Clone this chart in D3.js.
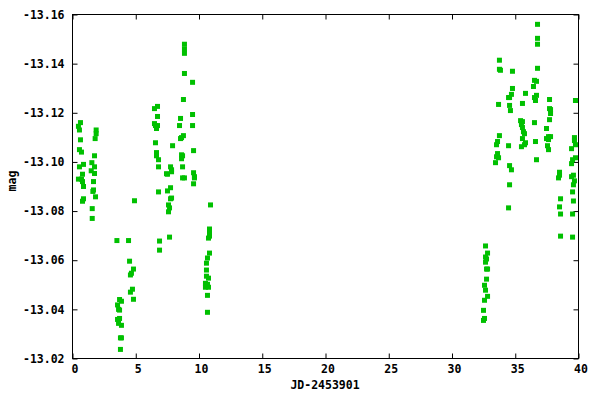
<!DOCTYPE html>
<html><head><meta charset="utf-8">
<script src="https://cdn.jsdelivr.net/npm/d3@7"></script>
<style>
html,body{margin:0;padding:0;background:#fff;}
text{font-family:"DejaVu Sans Mono","Liberation Mono",monospace;font-weight:bold;font-size:11.5px;fill:#000;}
</style></head>
<body>
<svg id="c" width="600" height="400"></svg>
<script>
// Season 1 (JD-2453901 ~0-11)
const jd1 = [0.47,0.63,0.55,0.63,0.55,0.71,0.87,0.55,0.79,0.47,0.71,0.79,0.87,0.87,0.79,
1.87,1.87,1.79,1.74,1.53,1.74,1.48,1.74,1.66,1.61,1.66,1.82,1.56,1.56,
3.51,3.56,3.72,3.64,3.87,3.72,3.56,3.72,3.64,3.87,3.79,3.87,3.79,
4.43,4.51,4.82,4.66,4.58,4.74,4.58,4.82,4.90,
6.48,6.72,6.72,6.48,6.56,6.72,6.64,6.56,6.64,6.64,6.80,6.80,6.80,6.88,6.88,
7.43,7.51,7.75,7.83,7.83,7.51,7.75,7.75,7.83,7.59,7.67,7.59,7.67,7.91,
8.54,8.46,8.54,8.77,8.62,8.62,8.70,8.62,8.70,8.70,8.85,8.85,8.85,8.85,8.85,8.77,
9.49,9.49,9.49,9.57,9.57,9.64,9.57,9.64,
10.91,10.83,10.83,10.83,10.75,10.83,10.67,10.59,10.59,10.59,10.75,10.51,10.67,10.75,10.51,10.67,10.67];
const mag1 = [-13.1145,-13.116,-13.113,-13.109,-13.105,-13.104,-13.099,-13.098,-13.095,-13.093,-13.093,-13.092,-13.090,-13.085,-13.084,
-13.113,-13.1115,-13.1095,-13.1025,-13.0997,-13.098,-13.0964,-13.0953,-13.092,-13.088,-13.0886,-13.0858,-13.081,-13.077,
-13.068,-13.0418,-13.044,-13.040,-13.0433,-13.0397,-13.0359,-13.0363,-13.0343,-13.0335,-13.0284,-13.0284,-13.0237,
-13.068,-13.0596,-13.0564,-13.0547,-13.054,-13.0482,-13.047,-13.0441,-13.0842,
-13.1217,-13.1226,-13.1185,-13.1156,-13.1148,-13.1148,-13.1136,-13.1078,-13.1038,-13.1025,-13.1009,-13.098,-13.0878,-13.0678,-13.0641,
-13.0952,-13.095,-13.098,-13.0968,-13.096,-13.0882,-13.0895,-13.085,-13.0853,-13.0825,-13.0813,-13.0797,-13.0694,-13.1066,
-13.1177,-13.1148,-13.1095,-13.1107,-13.1099,-13.1029,-13.1025,-13.1013,-13.098,-13.0935,-13.0935,-13.1479,-13.146,-13.1442,-13.136,-13.1254,
-13.1324,-13.1193,-13.1148,-13.1046,-13.0956,-13.094,-13.0911,-13.0935,
-13.0825,-13.0727,-13.0711,-13.0698,-13.069,-13.0629,-13.0609,-13.0588,-13.056,-13.0535,-13.0527,-13.0506,-13.0502,-13.049,-13.049,-13.0457,-13.0388];
// Season 2 (JD-2453901 ~32-40)
const jd2 = [32.65,32.81,32.65,32.73,32.65,32.81,32.73,32.73,32.57,32.65,32.81,32.57,32.49,32.57,32.49,
33.75,33.75,33.83,33.68,33.75,33.60,33.52,33.60,33.52,33.68,33.44,
34.78,34.78,34.70,34.55,34.47,34.55,34.62,34.47,34.55,34.70,34.55,34.47,
35.81,35.57,35.42,35.57,35.49,35.57,35.65,35.73,35.57,35.81,35.73,35.49,
36.76,36.76,36.76,36.76,36.52,36.68,36.44,36.68,36.52,36.60,36.52,36.60,36.68,
37.71,37.71,37.79,37.79,37.71,37.47,37.63,37.79,37.47,37.63,37.55,37.63,
38.50,38.50,38.42,38.58,38.50,38.58,38.58,
39.76,39.68,39.68,39.76,39.45,39.76,39.53,39.45,39.60,39.45,39.68,39.60,39.53,39.60,39.53,39.53];
const mag2 = [-13.0658,-13.0629,-13.0613,-13.0605,-13.0592,-13.0564,-13.0564,-13.0523,-13.0498,-13.0478,-13.0453,-13.0437,-13.0396,-13.0363,-13.0355,
-13.1414,-13.1377,-13.1373,-13.1234,-13.1107,-13.1083,-13.107,-13.1034,-13.1021,-13.1017,-13.0997,
-13.1369,-13.1299,-13.1275,-13.1262,-13.1262,-13.123,-13.1209,-13.1066,-13.0985,-13.0968,-13.0907,-13.0813,
-13.1279,-13.1238,-13.1168,-13.1164,-13.1152,-13.114,-13.1123,-13.1115,-13.1095,-13.1078,-13.107,-13.1062,
-13.156,-13.1503,-13.1479,-13.1381,-13.1332,-13.1328,-13.1307,-13.1271,-13.1262,-13.125,-13.116,-13.1083,-13.1009,
-13.1254,-13.1217,-13.1213,-13.1197,-13.1172,-13.1136,-13.1103,-13.1103,-13.1095,-13.1091,-13.1066,-13.105,
-13.0958,-13.0946,-13.0935,-13.085,-13.0817,-13.0788,-13.0698,
-13.125,-13.1099,-13.1087,-13.107,-13.1054,-13.1017,-13.1009,-13.0993,-13.0946,-13.094,-13.0923,-13.0907,-13.0878,-13.0841,-13.0788,-13.0694];
const xTicks = [0,5,10,15,20,25,30,35,40];
const yTicks = [-13.02,-13.04,-13.06,-13.08,-13.10,-13.12,-13.14,-13.16];
const xLabel = "JD-2453901";
const yLabel = "mag";

const L = 72.5, R = 578.5, T = 14.5, B = 358.5;
const svg = d3.select("#c");
const x = d3.scaleLinear().domain([0, 40]).range([L, R]);
const y = d3.scaleLinear().domain([-13.02, -13.16]).range([B, T]);

const tl = 5;
const xb = svg.append("g").attr("transform", `translate(0,${B})`)
  .call(d3.axisBottom(x).tickValues(xTicks).tickSizeInner(-tl).tickSizeOuter(0).tickPadding(0).tickFormat(d3.format("d")));
const xt = svg.append("g").attr("transform", `translate(0,${T})`)
  .call(d3.axisTop(x).tickValues(xTicks).tickSizeInner(-tl).tickSizeOuter(0).tickFormat(""));
const yl = svg.append("g").attr("transform", `translate(${L},0)`)
  .call(d3.axisLeft(y).tickValues(yTicks).tickSizeInner(-tl).tickSizeOuter(0).tickPadding(8).tickFormat(d3.format(".2f")));
const yr = svg.append("g").attr("transform", `translate(${R},0)`)
  .call(d3.axisRight(y).tickValues(yTicks).tickSizeInner(-tl).tickSizeOuter(0).tickFormat(""));
[xb, xt, yl, yr].forEach(g => {
  g.select(".domain").remove();
  g.selectAll("line").attr("stroke", "#000");
  g.selectAll("text").attr("font-family", null).attr("font-size", null);
});
xb.selectAll("text").attr("y", 11).attr("dy", null).attr("dominant-baseline", "middle").attr("dx", 2);
yl.selectAll("text").text(d => d3.format(".2f")(d).replace("\u2212", "-"));

svg.append("rect").attr("x", L).attr("y", T).attr("width", R - L).attr("height", B - T)
  .attr("fill", "none").attr("stroke", "#000").attr("stroke-width", 1);

const pts = jd1.map((d, i) => ({jd: d, mag: mag1[i]})).concat(jd2.map((d, i) => ({jd: d, mag: mag2[i]})));
const s = 5;
svg.append("g").selectAll("rect").data(pts).join("rect")
  .attr("x", d => x(d.jd) - s / 2).attr("y", d => y(d.mag) - s / 2)
  .attr("width", s).attr("height", s).attr("fill", "#00c000");

svg.append("text").attr("x", 325).attr("y", 385).attr("text-anchor", "middle")
  .attr("dominant-baseline", "middle").text(xLabel);
svg.append("text").attr("transform", "translate(12,181) rotate(-90)").attr("text-anchor", "middle")
  .attr("dominant-baseline", "middle").text(yLabel);
</script>
</body></html>
